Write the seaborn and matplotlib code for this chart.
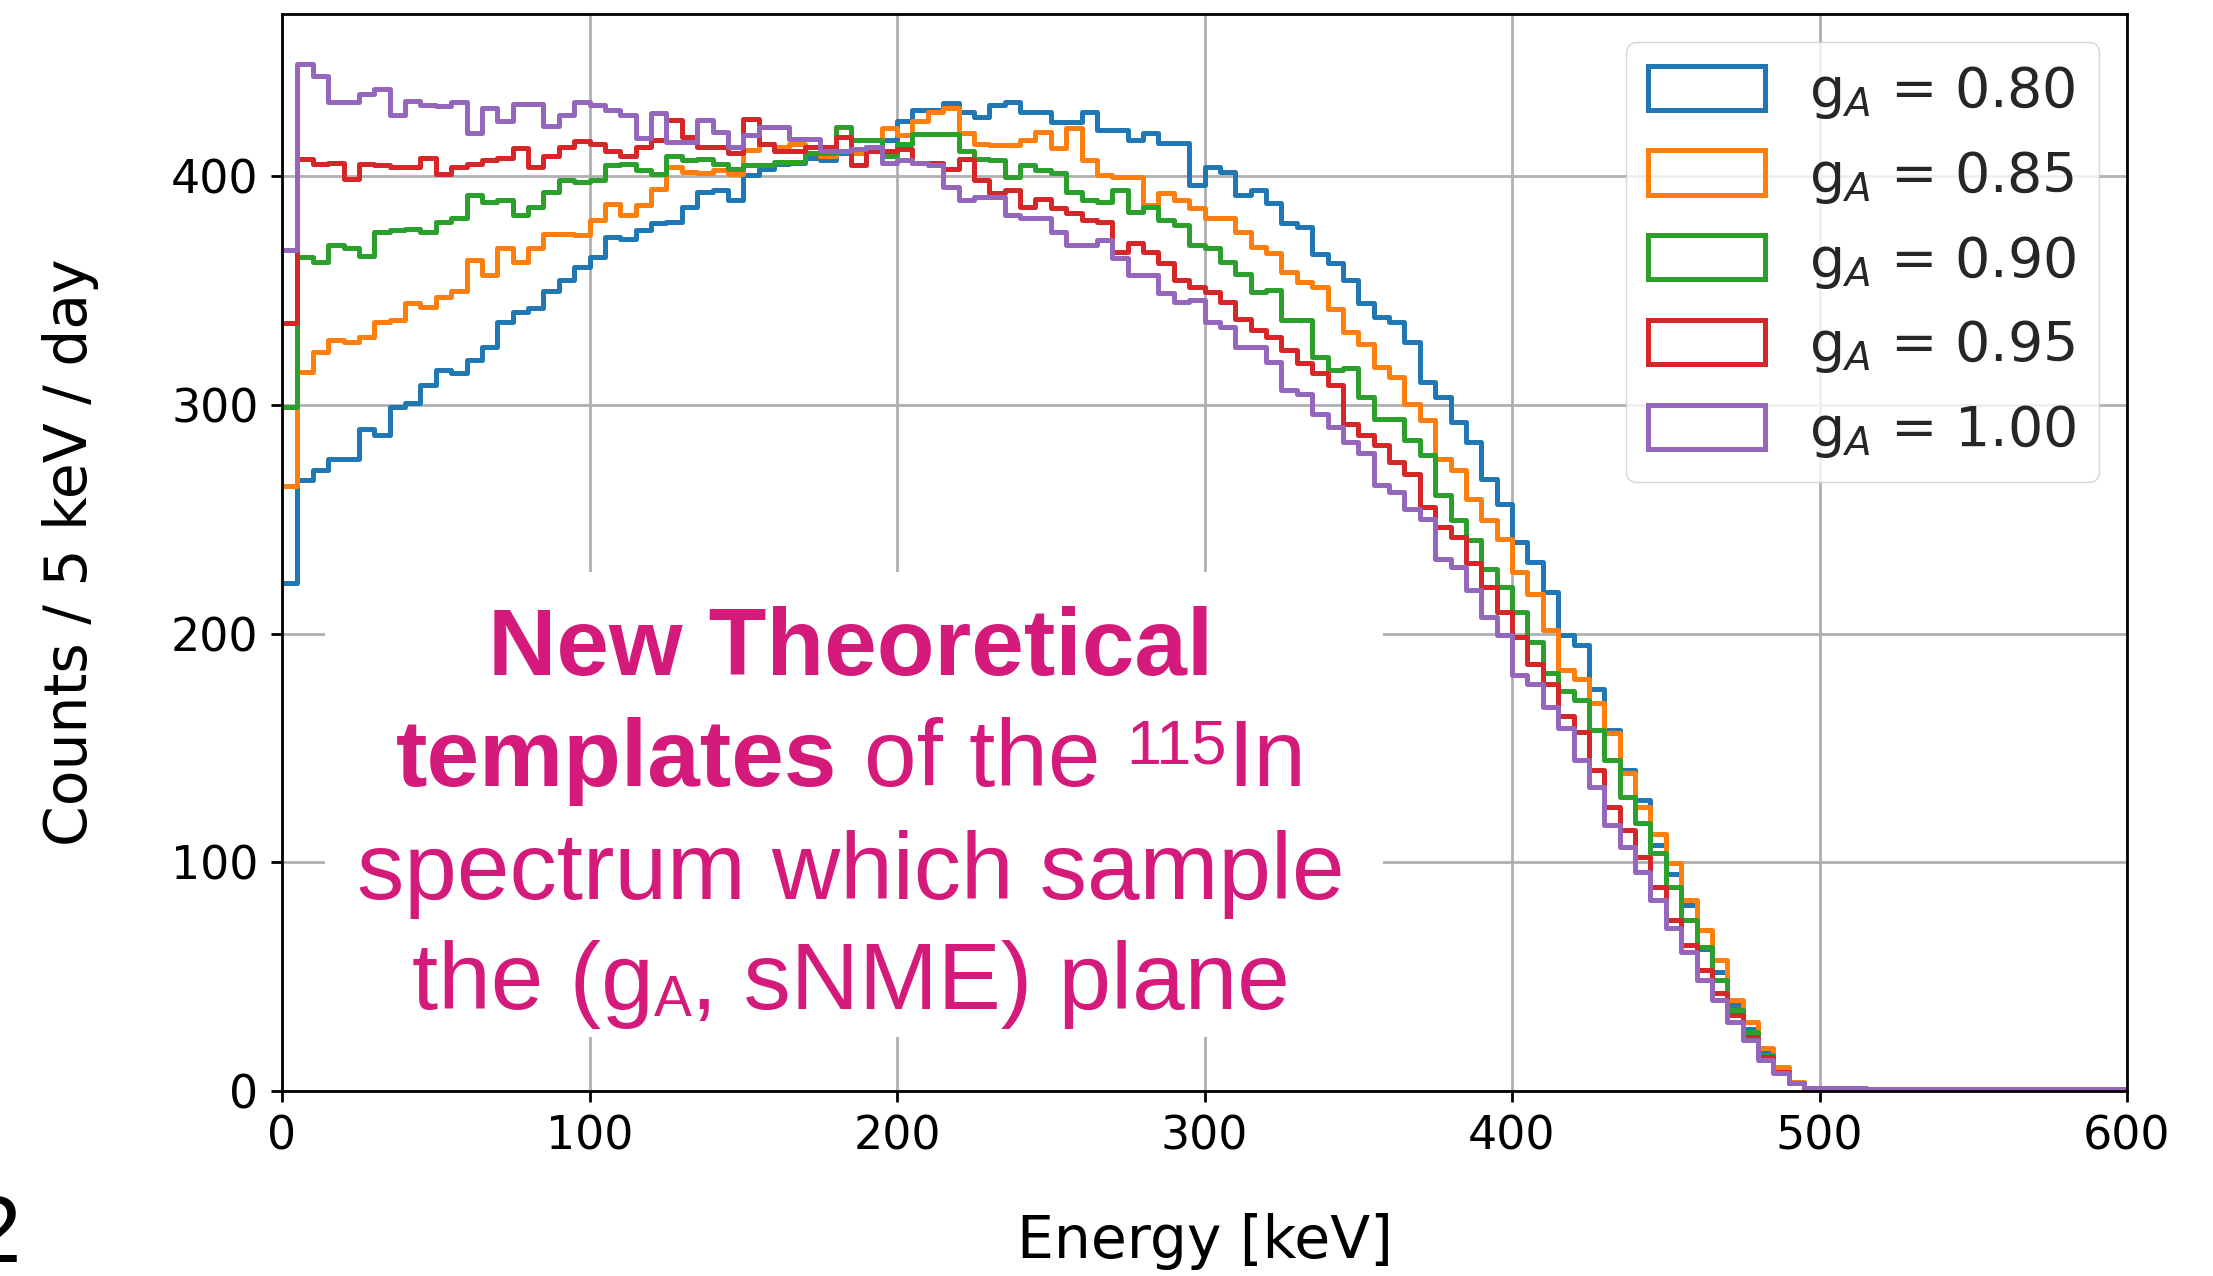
import numpy as np
import pandas as pd
import matplotlib
matplotlib.use("Agg")
import matplotlib.pyplot as plt
from matplotlib.patches import Rectangle, Patch
import seaborn as sns

# ---------------- data ----------------
energy_edges = list(range(0, 605, 5))          # 5 keV bins, 0-600 keV
ga_labels = ["g$_A$ = 0.80", "g$_A$ = 0.85", "g$_A$ = 0.90", "g$_A$ = 0.95", "g$_A$ = 1.00"]
colors = ["#1f77b4", "#ff7f0e", "#2ca02c", "#d62728", "#9467bd"]

counts_080 = [222, 267, 271.5, 276.6, 276.6, 289.7, 287, 299.2, 300.7, 308.7,
              315.3, 314, 319.6, 325.5, 336.4, 340.8, 342.3, 350, 354.6, 360.2,
              364.8, 373.6, 372.8, 376.5, 379.7, 380, 386.7, 393, 394, 389.6,
              400.6, 403, 405.6, 406, 408, 407, 410, 412, 413, 416,
              424, 429, 429, 432, 428, 426, 431, 432.6, 428.3, 428.3,
              423.9, 423.9, 428, 420.2, 420.2, 415.9, 418.8, 414.4, 414.4, 396.2,
              404.2, 402, 391.8, 394, 388.2, 379.4, 378, 366.2, 361.9, 354.6,
              344.4, 338.5, 336.4, 327.6, 310.1, 303.6, 292.6, 283.9, 267.8, 256.9,
              240.1, 231.4, 218.3, 199.4, 195, 176, 157.8, 140.3, 127.2, 107.5,
              95.1, 81.3, 62.3, 52.1, 37.6, 27.3, 16.4, 9.1, 3.3, 1.5,
              1.2, 1.1, 1.1, 1.0, 1.0, 1.0, 1.0, 1.0, 1.0, 1.0,
              1.0, 1.0, 1.0, 1.0, 1.0, 1.0, 1.0, 1.0, 1.0, 1.0]

counts_085 = [264.5, 314.5, 323, 328.4, 327.6, 329.8, 336.4, 337, 344.4, 343,
              347.3, 350, 363.4, 356.8, 368.5, 362.6, 368.5, 375, 374.8, 374.3,
              381, 388, 383, 387.5, 394.3, 404, 402, 401.6, 402.7, 401,
              411.5, 414, 413, 414, 410, 409, 411, 410, 412, 421,
              418, 424, 428, 430, 419, 414, 413.7, 413.7, 415.9, 419.5,
              412.2, 421, 407.1, 400.5, 399.8, 399.8, 387.4, 392.5, 389.6, 386,
              381.6, 381.6, 375.8, 369.2, 366.3, 358.3, 353.9, 351.7, 342.2, 332,
              326.9, 316.7, 312.3, 300.6, 293.3, 276.6, 271.5, 259, 249.6, 241.6,
              227, 217.5, 201.5, 184, 180, 169.5, 156.4, 139, 124.3, 112.6,
              99.5, 83.5, 70.4, 57.2, 39.7, 30.3, 18.6, 10.6, 4.0, 1.5,
              1.2, 1.1, 1.1, 1.0, 1.0, 1.0, 1.0, 1.0, 1.0, 1.0,
              1.0, 1.0, 1.0, 1.0, 1.0, 1.0, 1.0, 1.0, 1.0, 1.0]

counts_090 = [299, 364.8, 362.6, 370, 368.5, 365, 375.8, 376.5, 376.8, 375.8,
              380, 382, 391.8, 389, 389.5, 383, 386.7, 393, 398.4, 397.6,
              398.4, 405, 405.4, 402.7, 401, 409, 407, 407.4, 405.6, 403,
              405, 405, 406.4, 406.4, 410, 410, 421.6, 415.8, 415.8, 409,
              414, 418.7, 418.7, 418.7, 411, 407.8, 407, 399.8, 405, 402.7,
              401.3, 393.3, 389.6, 388.9, 394, 384.5, 386.7, 380.9, 378.7, 369.9,
              368.5, 362.6, 357.5, 349.5, 350.2, 337.1, 337.1, 321.1, 315.2, 316,
              303.5, 294.1, 294.1, 284.6, 278, 260.5, 249.6, 240.9, 228.5, 220.5,
              209.5, 196.4, 183, 175, 171, 158, 144.7, 128.7, 117, 103.9,
              89.3, 74.7, 63, 48.5, 35.4, 25.9, 15.7, 8.4, 3.3, 1.5,
              1.2, 1.1, 1.1, 1.0, 1.0, 1.0, 1.0, 1.0, 1.0, 1.0,
              1.0, 1.0, 1.0, 1.0, 1.0, 1.0, 1.0, 1.0, 1.0, 1.0]

counts_095 = [335.7, 407.8, 405.6, 406, 399, 405.6, 405, 404, 404, 408,
              401, 404, 405.6, 407, 408, 412.6, 404, 409, 413, 415.5,
              414, 411, 409, 413, 416, 424.6, 417, 413, 413, 410,
              425, 414, 411, 411, 413, 413, 417, 404.9, 411, 411,
              412, 406, 406, 403, 407.8, 398.3, 392.5, 394, 386.7, 389.9,
              386, 383.8, 380.9, 380.1, 367, 370.7, 367, 362, 354.6, 351.7,
              349.5, 345.1, 337.8, 332.8, 329.8, 324, 318.2, 313.8, 308.7, 291.9,
              286.8, 282.4, 275.1, 270, 255.4, 246.7, 242.3, 230.7, 220.5, 209.5,
              198.6, 186.9, 178.2, 164, 157, 140.3, 124.3, 114, 102.4, 89.3,
              74.7, 63.8, 52.9, 42.7, 33.2, 23.7, 15, 8.4, 3.3, 1.5,
              1.2, 1.1, 1.1, 1.0, 1.0, 1.0, 1.0, 1.0, 1.0, 1.0,
              1.0, 1.0, 1.0, 1.0, 1.0, 1.0, 1.0, 1.0, 1.0, 1.0]

counts_100 = [367.8, 449, 444, 432.6, 432.6, 436, 438, 427, 433, 431,
              430.7, 432.6, 419, 430, 424, 431.6, 431.6, 422, 427, 432.6,
              431, 429, 427, 416.6, 427.5, 415, 415, 424.6, 419.5, 413,
              418, 421.6, 421.6, 416.5, 416.5, 411, 411, 412, 413, 406,
              407, 406, 404.9, 395.4, 389.6, 391, 391, 383, 381.6, 381.6,
              375.8, 369.9, 369.9, 372.1, 364.1, 356.8, 356.8, 348.8, 345.1, 345.9,
              336.4, 334.2, 325.5, 325.5, 318.9, 306.5, 305, 296, 290.4, 283.9,
              278.8, 264.9, 262, 254.7, 250.3, 232.8, 229.2, 219, 207.3, 199.3,
              181.8, 178.2, 168, 158.6, 144.7, 133, 116.3, 106.8, 95.9, 83.5,
              71.1, 60.9, 48.5, 39.7, 30.3, 22.3, 13.5, 7.7, 3.3, 1.5,
              1.2, 1.1, 1.1, 1.0, 1.0, 1.0, 1.0, 1.0, 1.0, 1.0,
              1.0, 1.0, 1.0, 1.0, 1.0, 1.0, 1.0, 1.0, 1.0, 1.0]

series_counts = [counts_080, counts_085, counts_090, counts_095, counts_100]
x_ticks = [0, 100, 200, 300, 400, 500, 600]
y_ticks = [0, 100, 200, 300, 400]

# ---------------- style ----------------
sns.set_style("ticks")
plt.rcParams.update({
    "font.family": ["DejaVu Sans"],
    "axes.linewidth": 2.0,
    "axes.edgecolor": "black",
    "xtick.major.width": 2.0, "ytick.major.width": 2.0,
    "xtick.major.size": 8, "ytick.major.size": 8,
    "xtick.major.pad": 9, "ytick.major.pad": 9,
    "xtick.labelsize": 33, "ytick.labelsize": 33,
    "xtick.color": "black", "ytick.color": "black",
    "axes.labelsize": 42, "axes.labelcolor": "black",
    "grid.color": "#b0b0b0", "grid.linewidth": 2.0,
})

W, H = 2213, 1276
fig = plt.figure(figsize=(W / 100, H / 100), dpi=100)
ax = fig.add_axes([282 / W, 1 - 1091 / H, 1845 / W, 1077 / H])

edges_arr = np.asarray(energy_edges, dtype=float)
centers = edges_arr[:-1] + np.diff(edges_arr) / 2
for lab, col, vals in zip(ga_labels, colors, series_counts):
    df = pd.DataFrame({"energy": centers, "counts": vals})
    sns.histplot(data=df, x="energy", weights="counts", bins=energy_edges,
                 element="step", fill=False, color=col, linewidth=3.6, ax=ax)

ax.set_xlim(0, 600)
ax.set_ylim(0, 471)
ax.set_xticks(x_ticks)
ax.set_yticks(y_ticks)
ax.grid(True)
ax.set_axisbelow(True)
ax.set_xlabel("Energy [keV]")
ax.set_ylabel("Counts / 5 keV / day")
ax.xaxis.set_label_coords(0.5, -0.113)
ax.yaxis.set_label_coords(-0.099, 0.5)

handles = [Patch(facecolor="none", edgecolor=c, linewidth=3.6) for c in colors]
ax.legend(handles, ga_labels, loc="upper right", fontsize=40,
          handlelength=2.1, handleheight=0.85, labelspacing=0.5,
          handletextpad=0.8, borderpad=0.4, borderaxespad=0.5)

# ---------------- slide overlay ----------------
pink = "#D41A7A"
box_font = "Liberation Sans"
fs = 68
renderer = fig.canvas.get_renderer()

fig.add_artist(Rectangle((325 / W, 1 - 1037 / H), (1383 - 325) / W, (1037 - 572) / H,
                         transform=fig.transFigure, facecolor="white",
                         edgecolor="none", zorder=10))


def measure(s, weight, size):
    t = fig.text(0, 0, s, fontsize=size, fontweight=weight, family=box_font)
    w = t.get_window_extent(renderer).width
    t.remove()
    return w


def space_width(weight, size):
    return measure("n n", weight, size) - measure("nn", weight, size)


def draw_line(pieces, xc_px, base_px_from_top):
    widths = []
    for s, weight, scale, dy in pieces:
        if s == " ":
            widths.append(space_width(weight, fs * scale))
        else:
            widths.append(measure(s, weight, fs * scale))
    x = xc_px - sum(widths) / 2
    em_px = fs * 100 / 72
    for (s, weight, scale, dy), w in zip(pieces, widths):
        if s != " ":
            fig.text(x / W, 1 - (base_px_from_top - dy * em_px) / H, s,
                     fontsize=fs * scale, fontweight=weight, family=box_font,
                     color=pink, ha="left", va="baseline", zorder=11)
        x += w


xc = 851
draw_line([("New Theoretical", "bold", 1, 0)], xc, 675)
draw_line([("templates", "bold", 1, 0), (" ", "bold", 1, 0),
           ("of the", "normal", 1, 0), (" ", "normal", 1, 0),
           ("115", "normal", 0.667, 0.24), ("In", "normal", 1, 0)], xc, 786)
draw_line([("spectrum which sample", "normal", 1, 0)], xc, 899)
draw_line([("the (g", "normal", 1, 0), ("A", "normal", 0.6, -0.07),
           (", sNME) plane", "normal", 1, 0)], xc, 1009)

fig.text(21 / W, 1 - 1262 / H, "2", fontsize=68, family=box_font,
         color="black", ha="right", va="baseline", zorder=11)

fig.savefig("out.png", dpi=100)
